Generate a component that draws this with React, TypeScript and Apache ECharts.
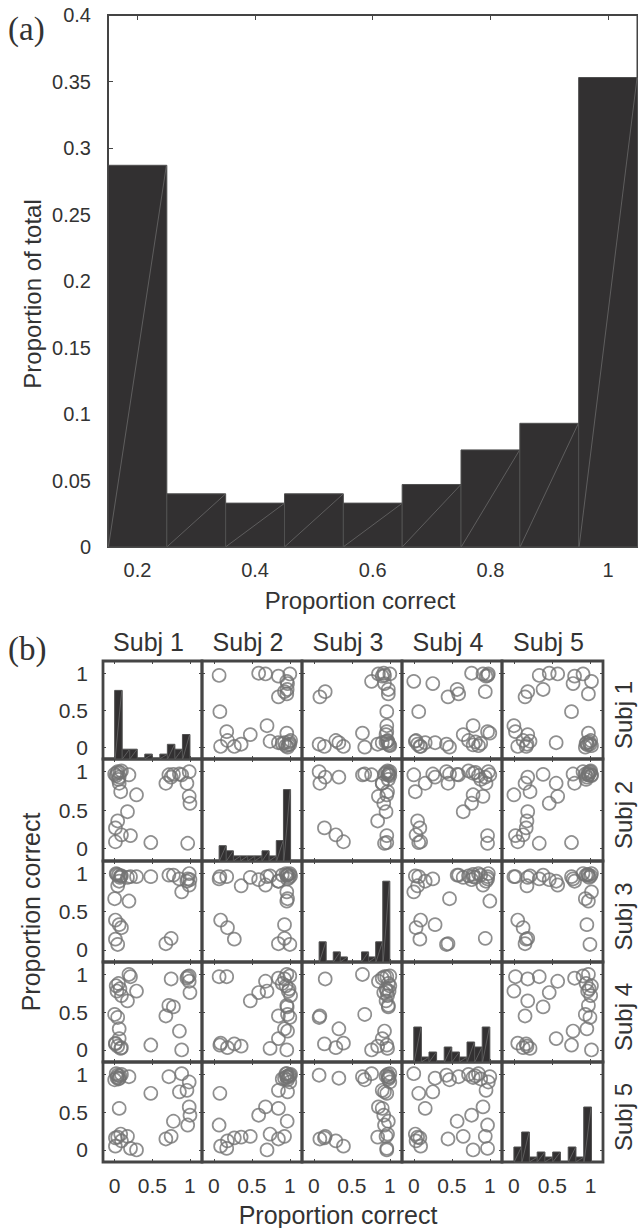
import React, { useEffect, useRef } from "react";
import * as echarts from "echarts";

// ---------- Panel (a): pooled histogram ----------
const pooledBinCenters = [0.2, 0.3, 0.4, 0.5, 0.6, 0.7, 0.8, 0.9, 1.0];
const pooledProportions = [0.287, 0.04, 0.033, 0.04, 0.033, 0.047, 0.073, 0.093, 0.353];
const pooledBinWidth = 0.1;
const pooledXTicks = [0.2, 0.4, 0.6, 0.8, 1];
const pooledXRange = [0.15, 1.05];
const pooledYMax = 0.4;
const pooledYInterval = 0.05;

// ---------- Panel (b): proportion correct per item (30 items) per subject ----------
const subjectLabels = ["Subj 1", "Subj 2", "Subj 3", "Subj 4", "Subj 5"];
const subj1 = [0.97, 1.0, 0.99, 0.96, 0.99, 0.89, 0.86, 0.78, 0.75, 0.68, 0.72, 0.48, 0.21, 0.17, 0.29, 0.01, 0.09, 0.01, 0.04, 0.08, 0.06, 0.19, 0.06, 0.04, 0.0, 0.09, 0.03, 0.07, 0.02, 0.05];
const subj2 = [0.07, 0.59, 0.68, 0.85, 1.0, 0.96, 0.97, 0.965, 0.93, 0.85, 0.96, 0.08, 0.17, 0.48, 0.7, 0.09, 0.18, 0.27, 0.36, 0.74, 0.85, 0.96, 0.93, 1.0, 0.97, 1.01, 0.98, 0.99, 0.95, 0.9];
const subj3 = [0.93, 0.92, 0.85, 0.9, 1.0, 0.76, 0.93, 0.98, 0.15, 0.08, 0.98, 0.96, 0.96, 0.95, 0.96, 0.39, 0.29, 0.14, 0.84, 0.97, 0.9, 0.64, 0.33, 0.07, 0.67, 0.97, 0.99, 0.95, 1.0, 0.98];
const subj4 = [0.97, 0.76, 0.91, 0.95, 0.98, 0.0, 0.25, 0.57, 0.94, 0.45, 0.59, 0.065, 0.97, 0.65, 0.78, 0.09, 0.03, 0.08, 0.05, 0.02, 0.15, 1.0, 0.28, 0.43, 0.47, 0.72, 0.78, 0.81, 0.85, 0.88];
const subj5 = [0.33, 0.46, 0.57, 0.79, 0.9, 1.01, 0.77, 0.38, 0.18, 0.145, 0.97, 0.75, 0.02, 0.18, 0.0, 0.05, 0.12, 0.16, 0.17, 0.21, 0.55, 0.97, 0.95, 0.99, 0.93, 1.0, 0.96, 0.98, 1.01, 0.94];
const subjects = [subj1, subj2, subj3, subj4, subj5];
const matrixTicks = [0, 0.5, 1];
const matrixXRange = [-0.155, 1.16];
const matrixYRange = [-0.16, 1.165];
const histBinCount = 10;
const histCountMax = 20;

// ---------- layout / style ----------
const SANS = "'Liberation Sans', Arial, Helvetica, sans-serif";
const SERIF = "'Liberation Serif', 'Times New Roman', serif";
const TEXT = "#333333";
const FRAME = "#454545";
const colEdges = [103, 202, 302, 402, 502, 603];
const rowEdges = [661, 759, 861, 962, 1062, 1162];

function histBins(values: number[], n: number) {
  const lo = Math.min(...values);
  const hi = Math.max(...values);
  const w = (hi - lo) / n;
  const counts = new Array(n).fill(0);
  values.forEach((v) => {
    let k = Math.floor((v - lo) / w + 1e-9);
    if (k >= n) k = n - 1;
    if (k < 0) k = 0;
    counts[k]++;
  });
  return counts.map((c, k) => [lo + k * w, lo + (k + 1) * w, c]);
}

function barRender(params: any, api: any) {
  const x0 = api.value(0);
  const x1 = api.value(1);
  const h = api.value(2);
  if (!h) return null;
  const p0 = api.coord([x0, 0]);
  const p1 = api.coord([x1, h]);
  return {
    type: "group",
    children: [
      {
        type: "rect",
        shape: { x: p0[0], y: p1[1], width: p1[0] - p0[0], height: p0[1] - p1[1] },
        style: { fill: "#323031", stroke: "#505050", lineWidth: 1 },
      },
      {
        type: "line",
        shape: { x1: p0[0] + 0.5, y1: p0[1] - 0.5, x2: p1[0] - 0.5, y2: p1[1] + 0.5 },
        style: { stroke: "#7c7c7c", lineWidth: 0.6 },
      },
    ],
  };
}

function buildOption() {
  const grids: any[] = [];
  const xAxes: any[] = [];
  const yAxes: any[] = [];
  const series: any[] = [];
  const noLine = { show: false, onZero: false };

  // ----- panel (a) -----
  grids.push({
    left: 108, top: 15, width: 529.5, height: 532,
    show: true, borderColor: "#444", borderWidth: 2, backgroundColor: "transparent",
    outerBoundsMode: "none",
  });
  const tickA = { show: true, inside: true, length: 5, customValues: pooledXTicks, lineStyle: { color: FRAME, width: 1 } };
  xAxes.push({
    type: "value", gridIndex: 0, position: "bottom", min: pooledXRange[0], max: pooledXRange[1],
    axisLine: noLine, splitLine: { show: false },
    axisTick: tickA,
    axisLabel: { show: true, customValues: pooledXTicks, fontSize: 20, fontFamily: SANS, color: TEXT, margin: 13, formatter: (v: number) => String(+v.toFixed(2)) },
  });
  xAxes.push({
    type: "value", gridIndex: 0, position: "top", min: pooledXRange[0], max: pooledXRange[1],
    axisLine: noLine, splitLine: { show: false },
    axisTick: tickA, axisLabel: { show: false },
  });
  yAxes.push({
    type: "value", gridIndex: 0, position: "left", min: 0, max: pooledYMax, interval: pooledYInterval,
    axisLine: noLine, splitLine: { show: false },
    axisTick: { show: true, inside: true, length: 5, lineStyle: { color: FRAME, width: 1 } },
    axisLabel: { show: true, fontSize: 20, fontFamily: SANS, color: TEXT, margin: 17, formatter: (v: number) => String(+v.toFixed(2)) },
  });
  series.push({
    type: "custom", xAxisIndex: 0, yAxisIndex: 0, silent: true, clip: false,
    renderItem: barRender,
    encode: { x: [0, 1], y: 2 },
    data: pooledBinCenters.map((c, i) => [c - pooledBinWidth / 2, c + pooledBinWidth / 2, pooledProportions[i]]),
  });

  // ----- panel (b) -----
  const tickB = { show: true, inside: true, length: 3, customValues: matrixTicks, lineStyle: { color: FRAME, width: 1 } };
  const fmtB = (v: number) => String(+v.toFixed(2));
  for (let r = 0; r < 5; r++) {
    for (let c = 0; c < 5; c++) {
      const gi = grids.length;
      grids.push({
        left: colEdges[c], top: rowEdges[r],
        width: colEdges[c + 1] - colEdges[c], height: rowEdges[r + 1] - rowEdges[r],
        show: true, borderColor: FRAME, borderWidth: 2.8, backgroundColor: "transparent",
        outerBoundsMode: "none",
      });
      const xi = xAxes.length;
      xAxes.push({
        type: "value", gridIndex: gi, position: "bottom", min: matrixXRange[0], max: matrixXRange[1],
        axisLine: noLine, splitLine: { show: false }, axisTick: tickB,
        axisLabel: { show: r === 4, customValues: matrixTicks, fontSize: 21, fontFamily: SANS, color: TEXT, margin: 13, formatter: fmtB },
      });
      xAxes.push({
        type: "value", gridIndex: gi, position: "top", min: matrixXRange[0], max: matrixXRange[1],
        axisLine: noLine, splitLine: { show: false }, axisTick: tickB, axisLabel: { show: false },
      });
      const yi = yAxes.length;
      yAxes.push({
        type: "value", gridIndex: gi, position: "left", min: matrixYRange[0], max: matrixYRange[1],
        axisLine: noLine, splitLine: { show: false }, axisTick: tickB,
        axisLabel: { show: c === 0, customValues: matrixTicks, fontSize: 21, fontFamily: SANS, color: TEXT, margin: 15, formatter: fmtB },
      });
      yAxes.push({
        type: "value", gridIndex: gi, position: "right", min: matrixYRange[0], max: matrixYRange[1],
        axisLine: noLine, splitLine: { show: false }, axisTick: tickB, axisLabel: { show: false },
      });
      if (r === c) {
        const hi = yAxes.length;
        yAxes.push({
          type: "value", gridIndex: gi, show: false, min: 0, max: histCountMax,
          axisLine: noLine, splitLine: { show: false }, axisTick: { show: false }, axisLabel: { show: false },
        });
        series.push({
          type: "custom", xAxisIndex: xi, yAxisIndex: hi, silent: true, clip: false,
          renderItem: barRender,
          encode: { x: [0, 1], y: 2 },
          data: histBins(subjects[r], histBinCount),
        });
      } else {
        series.push({
          type: "scatter", xAxisIndex: xi, yAxisIndex: yi, silent: true,
          symbol: "circle", symbolSize: 13,
          itemStyle: { color: "rgba(0,0,0,0)", borderColor: "#737373", borderWidth: 1.7 },
          data: subjects[c].map((xv, k) => [xv, subjects[r][k]]),
        });
      }
    }
  }

  const txt = (text: string, x: number, y: number, size: number, opts: any = {}) => ({
    type: "text", x, y, rotation: opts.rotation || 0, silent: true,
    style: {
      text, fontSize: size, fontFamily: opts.font || SANS, fill: TEXT,
      align: opts.align || "center", verticalAlign: "middle",
    },
  });

  const elements: any[] = [
    txt("(a)", 8, 29, 33, { font: SERIF, align: "left" }),
    txt("Proportion of total", 32, 294, 24, { rotation: Math.PI / 2 }),
    txt("Proportion correct", 360, 600, 24),
    txt("(b)", 8, 649, 33, { font: SERIF, align: "left" }),
    txt("Proportion correct", 31, 912, 25, { rotation: Math.PI / 2 }),
    txt("Proportion correct", 338, 1215, 25),
  ];
  for (let c = 0; c < 5; c++) {
    elements.push(txt(subjectLabels[c], (colEdges[c] + colEdges[c + 1]) / 2 - 4, 642, 25));
  }
  for (let r = 0; r < 5; r++) {
    elements.push(txt(subjectLabels[r], 623, (rowEdges[r] + rowEdges[r + 1]) / 2 + 5, 24, { rotation: Math.PI / 2 }));
  }

  return {
    animation: false,
    backgroundColor: "#ffffff",
    grid: grids,
    xAxis: xAxes,
    yAxis: yAxes,
    series,
    graphic: { elements },
  };
}

export default function App() {
  const ref = useRef<HTMLDivElement>(null);
  useEffect(() => {
    if (!ref.current) return;
    const chart = echarts.init(ref.current, undefined, { renderer: "svg" });
    chart.setOption(buildOption() as any);
    return () => chart.dispose();
  }, []);
  return (
    <div
      ref={ref}
      style={{ position: "absolute", left: 0, top: 0, width: 638, height: 1228, background: "#fff" }}
    />
  );
}
